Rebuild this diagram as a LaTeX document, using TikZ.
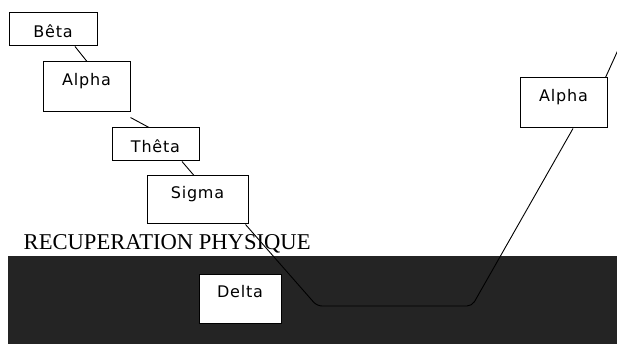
\documentclass[tikz,border=0pt]{standalone}
\usepackage{fontspec}
\newfontfamily\boxfont[LetterSpace=5]{DejaVu Sans}
\newfontfamily\titlefont{Liberation Serif}
\begin{document}
\begin{tikzpicture}[x=1pt,y=-1pt,
  boxbase/.style={draw=black, line width=1pt, fill=white, inner sep=2pt,
    font=\boxfont\fontsize{16}{18}\selectfont},
  shortbox/.style={boxbase, text height=16pt, text depth=0pt},
  tallbox/.style={boxbase, text height=12pt, text depth=14pt},
  conn/.style={draw=black, line width=0.9pt}]
\useasboundingbox (0,0) rectangle (617,344);
\fill[white] (0,0) rectangle (617,344);
\fill[fill={rgb,255:red,36;green,36;blue,36}] (8,256) rectangle (617,344);
\node[anchor=base west, inner sep=0pt, font=\titlefont\fontsize{22.6}{26}\selectfont] (title) at (23.5,250) {RECUPERATION PHYSIQUE};
% boxes
\node[shortbox, minimum width=88pt, minimum height=33pt] (beta) at (53,29.5) {Bêta};
\node[tallbox, minimum width=87pt, minimum height=50pt] (alphaA) at (86.5,87) {Alpha};
\node[shortbox, minimum width=87pt, minimum height=33pt] (theta) at (155.5,144.5) {Thêta};
\node[tallbox, minimum width=101pt, minimum height=48pt] (sigma) at (197.5,200) {Sigma};
\node[tallbox, minimum width=82pt, minimum height=49pt] (delta) at (240,298.5) {Delta};
\node[tallbox, minimum width=87pt, minimum height=50pt] (alphaB) at (563.5,103) {Alpha};
% connector helpers
\coordinate (b1) at (317,306);
\coordinate (b2) at (472,306);
\coordinate (top) at (618,50);
% connectors
\draw[conn] ([xshift=22pt]beta.south) -- ([xshift=0.5pt]alphaA.north);
\draw[conn] ([yshift=-5pt]alphaA.south east) -- ([xshift=-6.5pt]theta.north);
\draw[conn] ([xshift=26.5pt]theta.south) -- ([xshift=-3.5pt]sigma.north);
\draw[conn, rounded corners=5pt] ([xshift=-3pt]sigma.south east) -- (b1) -- (b2) -- ([xshift=9.5pt]alphaB.south);
\draw[conn] ([xshift=-2pt]alphaB.north east) -- (top);
\end{tikzpicture}
\end{document}
